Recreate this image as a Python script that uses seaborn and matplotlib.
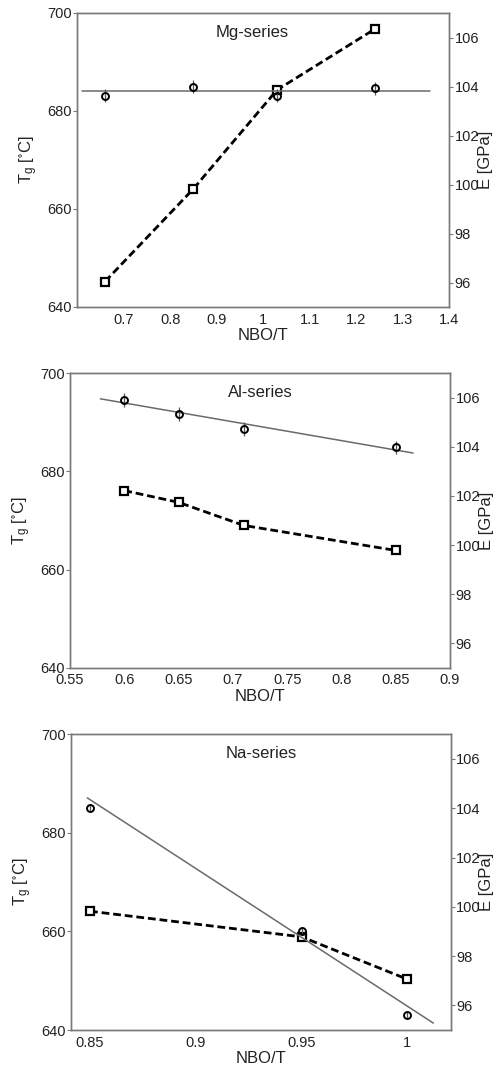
import matplotlib
matplotlib.use("Agg")
import matplotlib.pyplot as plt
import seaborn as sns
import numpy as np

sns.set_style("white")
plt.rcParams['font.family'] = ['Liberation Sans', 'DejaVu Sans']
plt.rcParams['mathtext.default'] = 'regular'

# ---------------- data ----------------
series_names = ["Mg-series", "Al-series", "Na-series"]

# Mg-series
mg_x = [0.66, 0.85, 1.03, 1.24]
mg_tg = [645.2, 664.1, 684.3, 696.7]          # squares, left axis
mg_e = [103.63, 103.99, 103.63, 103.92]       # circles, right axis
mg_e_err = [0.27, 0.27, 0.27, 0.27]
mg_fit_x = [0.61, 1.36]
mg_fit_e = [103.8, 103.8]

# Al-series
al_x = [0.60, 0.65, 0.71, 0.85]
al_tg = [676.1, 673.7, 669.0, 663.9]
al_e = [105.9, 105.33, 104.72, 103.98]
al_e_err = [0.28, 0.28, 0.28, 0.28]
al_fit_x = [0.578, 0.866]
al_fit_e = [105.96, 103.75]

# Na-series
na_x = [0.85, 0.95, 1.00]
na_tg = [664.1, 658.9, 650.3]
na_e = [104.0, 99.0, 95.59]
na_e_err = [0.16, 0.16, 0.16]
na_fit_x = [0.8487, 1.0123]
na_fit_e = [104.42, 95.28]

xlims = [(0.5997, 1.4), (0.55, 0.9), (0.841, 1.0205)]
xticks = [[0.7, 0.8, 0.9, 1.0, 1.1, 1.2, 1.3, 1.4],
          [0.55, 0.6, 0.65, 0.7, 0.75, 0.8, 0.85, 0.9],
          [0.85, 0.9, 0.95, 1.0]]
xticklabels = [["0.7", "0.8", "0.9", "1", "1.1", "1.2", "1.3", "1.4"],
               ["0.55", "0.6", "0.65", "0.7", "0.75", "0.8", "0.85", "0.9"],
               ["0.85", "0.9", "0.95", "1"]]
tg_ticks = [640, 660, 680, 700]
e_ticks = [96, 98, 100, 102, 104, 106]

data = [
    (mg_x, mg_tg, mg_e, mg_e_err, mg_fit_x, mg_fit_e),
    (al_x, al_tg, al_e, al_e_err, al_fit_x, al_fit_e),
    (na_x, na_tg, na_e, na_e_err, na_fit_x, na_fit_e),
]

# ---------------- layout ----------------
W, H = 501, 1065
fig = plt.figure(figsize=(W / 100, H / 100), dpi=100)
# (left, top, right, bottom) in pixels
boxes = [(77, 13, 449, 307), (70, 373.3, 450, 667.7), (71, 734.3, 450.7, 1030)]

spine_col = "#7a7a7a"
text_col = "#222222"

for i, (box, d) in enumerate(zip(boxes, data)):
    l, t, r, b = box
    ax = fig.add_axes([l / W, 1 - b / H, (r - l) / W, (b - t) / H])
    x, tg, e, eerr, fx, fe = d
    ax2 = ax.twinx()

    # Tg : dashed line with squares
    sns.lineplot(x=x, y=tg, ax=ax, color="black", linestyle=(0, (2.8, 1.4)),
                 linewidth=2.0, marker="s", markersize=6, markerfacecolor="white",
                 markeredgecolor="black", markeredgewidth=1.6, sort=False,
                 zorder=3)
    # E : fit line + circles with error bars
    sns.lineplot(x=fx, y=fe, ax=ax2, color="#6a6a6a", linewidth=1.1, sort=False,
                 zorder=2)
    ax2.errorbar(x, e, yerr=eerr, fmt="o", markersize=5, markerfacecolor="none",
                 markeredgecolor="black", markeredgewidth=1.4, ecolor="#555555",
                 elinewidth=0.9, capsize=0, zorder=4)

    ax.set_xlim(*xlims[i])
    ax.set_ylim(640, 700)
    ax2.set_ylim(95, 107)
    ax.set_xticks(xticks[i])
    ax.set_xticklabels(xticklabels[i])
    ax.set_yticks(tg_ticks)
    ax2.set_yticks(e_ticks)

    ax.set_xlabel("NBO/T", fontsize=12, color=text_col, labelpad=1)
    ax.set_ylabel(r"T$_{g}$ [$^{\circ}$C]", fontsize=12, color=text_col, labelpad=5)
    ax2.set_ylabel("E [GPa]", fontsize=12, color=text_col, labelpad=-1)
    ax2.set_xlabel("")

    for a in (ax, ax2):
        for s in a.spines.values():
            s.set_color(spine_col)
            s.set_linewidth(1.0)
    ax.tick_params(axis="x", direction="in", length=4, color=spine_col,
                   labelsize=10.5, labelcolor=text_col, pad=4)
    ax.tick_params(axis="y", direction="out", length=3, color=spine_col,
                   labelsize=10.5, labelcolor=text_col, pad=1)
    ax2.tick_params(axis="y", direction="out", length=3, color=spine_col,
                    labelsize=10.5, labelcolor=text_col, pad=1)

    ax.text(0.5 - 0.03 * (i == 0), 0.935, series_names[i], transform=ax.transAxes,
            ha="center", va="center", fontsize=12, color=text_col)

fig.savefig("out.png", dpi=100)
